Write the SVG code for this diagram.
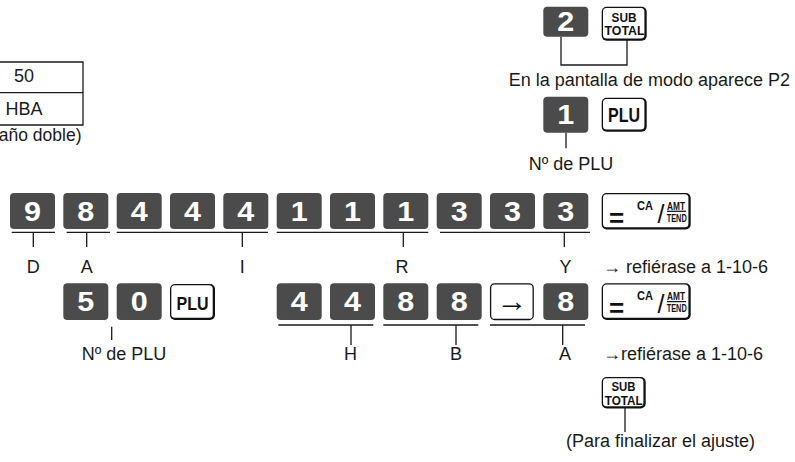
<svg xmlns="http://www.w3.org/2000/svg" width="795" height="462" viewBox="0 0 795 462">
<defs>
<style>
.k{fill:#4b4b4b}
.d{font-family:"Liberation Sans",Arial,sans-serif;font-weight:bold;font-size:27px;fill:#fff;text-anchor:middle}
.t{font-family:"Liberation Sans",Arial,sans-serif;font-size:18px;fill:#1a1a1a}
.m{text-anchor:middle}
.e{text-anchor:end}
.wb{fill:#111}
.wi{fill:#fff}
.kl{font-family:"Liberation Sans",Arial,sans-serif;font-weight:bold;fill:#111;text-anchor:middle}
.kn{font-family:"Liberation Sans",Arial,sans-serif;font-weight:normal;fill:#111;text-anchor:middle}
.ln{stroke:#1a1a1a;stroke-width:1.3;fill:none}
</style>
</defs>
<rect width="795" height="462" fill="#fff"/>

<g id="table">
<path class="ln" d="M0 62H83V125H0M0 92.7H83"/>
<text class="t m" x="24" y="82">50</text>
<text class="t m" x="24" y="115">HBA</text>
<text class="t e" x="81.5" y="141" style="font-size:17.5px">año doble)</text>
</g>

<g id="connectors">
<path class="ln" d="M561 36.7V65H627V40"/>
<path class="ln" d="M566 132.7V148.3"/>
<path class="ln" d="M11.7 232.3H55M33.3 232.3V247M66.7 232.3H110M86.7 232.3V247M116.7 232.3H268M242.3 232.3V247M276.7 232.3H428.3M403.3 232.3V247M440 232.3H590M564.3 232.3V247"/>
<path class="ln" d="M111.7 326.7V340"/>
<path class="ln" d="M278.3 325H373.3M351 325V345M383.3 325H478.3M456 325V345M490 325H585M562.7 325V345"/>
<path class="ln" d="M625 408V432"/>
</g>

<g id="top-keys">
<g id="key-2"><rect class="k" x="543.3" y="6.7" width="45" height="30" rx="4"/><text class="d" x="565.8" y="31.4" textLength="17" lengthAdjust="spacingAndGlyphs">2</text></g>
<g id="key-subtotal-top"><rect class="wb" x="601.7" y="6.7" width="45" height="34" rx="5"/><rect class="wi" x="603" y="8" width="41.4" height="30.4" rx="3.5"/>
<text class="kl" x="624" y="21.5" font-size="13" textLength="25" lengthAdjust="spacingAndGlyphs">SUB</text>
<text class="kl" x="624.5" y="35" font-size="13" textLength="40" lengthAdjust="spacingAndGlyphs">TOTAL</text></g>
<text class="t e" x="790" y="86">En la pantalla de modo aparece P2</text>
<g id="key-1"><rect class="k" x="543.3" y="96.7" width="45" height="36" rx="4"/><text class="d" x="565.8" y="124.4" textLength="17" lengthAdjust="spacingAndGlyphs">1</text></g>
<g id="key-plu-top"><rect class="wb" x="601.7" y="97.7" width="45" height="34" rx="5"/><rect class="wi" x="603" y="99" width="41.4" height="30.4" rx="3.5"/>
<text class="kl" x="624" y="121.5" font-size="20" textLength="32" lengthAdjust="spacingAndGlyphs">PLU</text></g>
<text class="t m" x="571" y="170">Nº de PLU</text>
</g>

<g id="row1">
<g id="k9"><rect class="k" x="10" y="193" width="45" height="36" rx="4"/><text class="d" x="32.5" y="220.7" textLength="17" lengthAdjust="spacingAndGlyphs">9</text></g>
<g id="k8a"><rect class="k" x="63.3" y="193" width="45" height="36" rx="4"/><text class="d" x="85.8" y="220.7" textLength="17" lengthAdjust="spacingAndGlyphs">8</text></g>
<g id="k4a"><rect class="k" x="116.7" y="193" width="45" height="36" rx="4"/><text class="d" x="139.2" y="220.7" textLength="17" lengthAdjust="spacingAndGlyphs">4</text></g>
<g id="k4b"><rect class="k" x="170" y="193" width="45" height="36" rx="4"/><text class="d" x="192.5" y="220.7" textLength="17" lengthAdjust="spacingAndGlyphs">4</text></g>
<g id="k4c"><rect class="k" x="223.3" y="193" width="45" height="36" rx="4"/><text class="d" x="245.8" y="220.7" textLength="17" lengthAdjust="spacingAndGlyphs">4</text></g>
<g id="k1a"><rect class="k" x="276.7" y="193" width="45" height="36" rx="4"/><text class="d" x="299.2" y="220.7" textLength="17" lengthAdjust="spacingAndGlyphs">1</text></g>
<g id="k1b"><rect class="k" x="330" y="193" width="45" height="36" rx="4"/><text class="d" x="352.5" y="220.7" textLength="17" lengthAdjust="spacingAndGlyphs">1</text></g>
<g id="k1c"><rect class="k" x="383.3" y="193" width="45" height="36" rx="4"/><text class="d" x="405.8" y="220.7" textLength="17" lengthAdjust="spacingAndGlyphs">1</text></g>
<g id="k3a"><rect class="k" x="436.7" y="193" width="45" height="36" rx="4"/><text class="d" x="459.2" y="220.7" textLength="17" lengthAdjust="spacingAndGlyphs">3</text></g>
<g id="k3b"><rect class="k" x="490" y="193" width="45" height="36" rx="4"/><text class="d" x="512.5" y="220.7" textLength="17" lengthAdjust="spacingAndGlyphs">3</text></g>
<g id="k3c"><rect class="k" x="543.3" y="193" width="45" height="36" rx="4"/><text class="d" x="565.8" y="220.7" textLength="17" lengthAdjust="spacingAndGlyphs">3</text></g>
<g id="ca1"><rect class="wb" x="601.7" y="193" width="89" height="36.5" rx="5"/><rect class="wi" x="603" y="194.3" width="85.4" height="32.9" rx="3.5"/>
<text class="kl" x="616.5" y="227" font-size="26">=</text>
<text class="kl" x="645" y="209.7" font-size="12" textLength="16" lengthAdjust="spacingAndGlyphs">CA</text>
<text class="kn" x="661" y="222.5" font-size="25">/</text>
<text class="kl" x="676" y="209.5" font-size="11" textLength="18" lengthAdjust="spacingAndGlyphs">AMT</text>
<path class="ln" d="M667 211.3H686" stroke-width="1"/>
<text class="kl" x="676.7" y="221.5" font-size="11" textLength="20" lengthAdjust="spacingAndGlyphs">TEND</text></g>
</g>

<g id="labels1">
<text class="t m" x="33.3" y="273">D</text>
<text class="t m" x="86.7" y="273">A</text>
<text class="t m" x="242.3" y="273">I</text>
<text class="t m" x="402" y="273">R</text>
<text class="t m" x="565.5" y="273">Y</text>
<text class="t" x="603" y="273">→ refiérase a 1-10-6</text>
</g>

<g id="row2">
<g id="k5"><rect class="k" x="63.3" y="283.3" width="45" height="36.7" rx="4"/><text class="d" x="85.8" y="311.4" textLength="17" lengthAdjust="spacingAndGlyphs">5</text></g>
<g id="k0"><rect class="k" x="116.7" y="283.3" width="45" height="36.7" rx="4"/><text class="d" x="139.2" y="311.4" textLength="17" lengthAdjust="spacingAndGlyphs">0</text></g>
<g id="plu2"><rect class="wb" x="170" y="284" width="45" height="36" rx="5"/><rect class="wi" x="171.3" y="285.3" width="41.4" height="32.4" rx="3.5"/>
<text class="kl" x="192.5" y="309.5" font-size="18" textLength="32" lengthAdjust="spacingAndGlyphs">PLU</text></g>
<g id="k4d"><rect class="k" x="276.7" y="283.3" width="45" height="36.7" rx="4"/><text class="d" x="299.2" y="311.4" textLength="17" lengthAdjust="spacingAndGlyphs">4</text></g>
<g id="k4e"><rect class="k" x="330" y="283.3" width="45" height="36.7" rx="4"/><text class="d" x="352.5" y="311.4" textLength="17" lengthAdjust="spacingAndGlyphs">4</text></g>
<g id="k8b"><rect class="k" x="383.3" y="283.3" width="45" height="36.7" rx="4"/><text class="d" x="405.8" y="311.4" textLength="17" lengthAdjust="spacingAndGlyphs">8</text></g>
<g id="k8c"><rect class="k" x="436.7" y="283.3" width="45" height="36.7" rx="4"/><text class="d" x="459.2" y="311.4" textLength="17" lengthAdjust="spacingAndGlyphs">8</text></g>
<g id="arrowkey"><rect x="490.6" y="283.9" width="42.6" height="35.6" rx="4" fill="#fff" stroke="#111" stroke-width="1.3"/>
<text class="kn" x="511.9" y="311" font-size="30" textLength="31" lengthAdjust="spacingAndGlyphs">→</text></g>
<g id="k8d"><rect class="k" x="543.3" y="283.3" width="45" height="36.7" rx="4"/><text class="d" x="565.8" y="311.4" textLength="17" lengthAdjust="spacingAndGlyphs">8</text></g>
<g id="ca2"><rect class="wb" x="601.7" y="283.3" width="89" height="36.7" rx="5"/><rect class="wi" x="603" y="284.6" width="85.4" height="33.1" rx="3.5"/>
<text class="kl" x="616.5" y="317.3" font-size="26">=</text>
<text class="kl" x="645" y="300" font-size="12" textLength="16" lengthAdjust="spacingAndGlyphs">CA</text>
<text class="kn" x="661" y="312.8" font-size="25">/</text>
<text class="kl" x="676" y="299.8" font-size="11" textLength="18" lengthAdjust="spacingAndGlyphs">AMT</text>
<path class="ln" d="M667 301.6H686" stroke-width="1"/>
<text class="kl" x="676.7" y="311.8" font-size="11" textLength="20" lengthAdjust="spacingAndGlyphs">TEND</text></g>
</g>

<g id="labels2">
<text class="t m" x="124" y="360">Nº de PLU</text>
<text class="t m" x="350.5" y="360">H</text>
<text class="t m" x="456" y="360">B</text>
<text class="t m" x="565" y="360">A</text>
<text class="t" x="603" y="360">→refiérase a 1-10-6</text>
</g>

<g id="subtotal-bottom">
<rect class="wb" x="601.7" y="377" width="44" height="31.5" rx="5"/><rect class="wi" x="603" y="378.3" width="40.4" height="27.9" rx="3.5"/>
<text class="kl" x="623.5" y="390.5" font-size="12.5" textLength="24" lengthAdjust="spacingAndGlyphs">SUB</text>
<text class="kl" x="623.7" y="404.5" font-size="12.5" textLength="38" lengthAdjust="spacingAndGlyphs">TOTAL</text>
<text class="t e" x="755" y="447">(Para finalizar el ajuste)</text>
</g>
</svg>
